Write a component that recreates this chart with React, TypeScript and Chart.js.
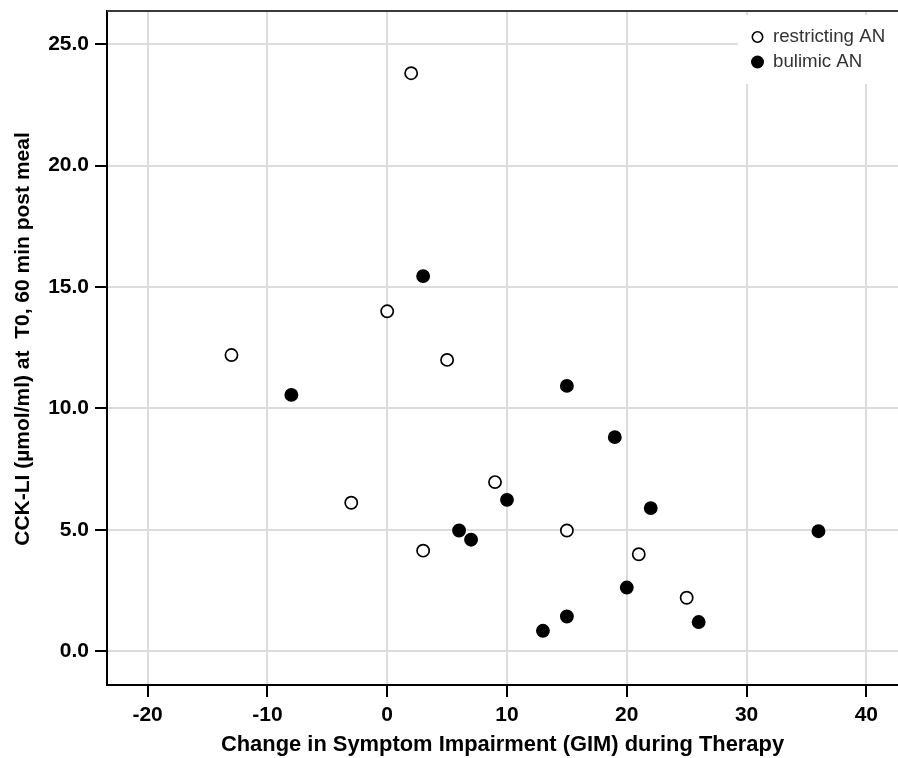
import React, { useEffect, useRef } from "react";
import { Chart, registerables } from "chart.js";

Chart.register(...registerables);

// ---- data ----
const seriesLabels = ["restricting AN", "bulimic AN"];
const restrictingX = [2, 0, -13, 5, -3, 9, 3, 15, 21, 25];
const restrictingY = [23.8, 14.0, 12.2, 12.0, 6.12, 6.97, 4.15, 4.98, 4.0, 2.21];
const bulimicX = [3, -8, 15, 19, 10, 22, 6, 7, 20, 15, 13, 26, 36];
const bulimicY = [15.45, 10.56, 10.93, 8.82, 6.24, 5.9, 4.98, 4.6, 2.63, 1.44, 0.85, 1.21, 4.95];
const xTicks = [-20, -10, 0, 10, 20, 30, 40];
const yTicks = [0, 5, 10, 15, 20, 25];
const xTitle = "Change in Symptom Impairment (GIM) during Therapy";
const yTitle = "CCK-LI (µmol/ml) at  T0, 60 min post meal";

const FONT = "'Liberation Sans', Arial, sans-serif";

const framePlugin = {
  id: "frameAndLegend",
  afterDraw(chart: any) {
    const { ctx, chartArea } = chart;
    ctx.save();
    // top border
    ctx.strokeStyle = "#3a3a3a";
    ctx.lineWidth = 2;
    ctx.beginPath();
    ctx.moveTo(chartArea.left, chartArea.top);
    ctx.lineTo(chartArea.right, chartArea.top);
    ctx.stroke();

    // y axis title
    ctx.save();
    ctx.translate(23, (chartArea.top + chartArea.bottom) / 2 - 9);
    ctx.rotate(-Math.PI / 2);
    ctx.fillStyle = "#000000";
    ctx.font = `bold 21px ${FONT}`;
    ctx.textAlign = "center";
    ctx.textBaseline = "middle";
    ctx.fillText(yTitle, 0, 0);
    ctx.restore();

    // legend box
    const bx = chartArea.right - 160;
    const by = chartArea.top + 4;
    ctx.fillStyle = "#ffffff";
    ctx.fillRect(bx, by, 160, 69);
    const datasets = chart.data.datasets;
    datasets.forEach((ds: any, i: number) => {
      const cy = by + 22 + i * 25;
      const cx = bx + 19.5;
      ctx.beginPath();
      if (i === 0) {
        ctx.arc(cx, cy, 5.2, 0, Math.PI * 2);
        ctx.fillStyle = ds.pointBackgroundColor;
        ctx.fill();
        ctx.lineWidth = 1.6;
        ctx.strokeStyle = ds.pointBorderColor;
        ctx.stroke();
      } else {
        ctx.arc(cx, cy, 6.5, 0, Math.PI * 2);
        ctx.fillStyle = ds.pointBackgroundColor;
        ctx.fill();
      }
      ctx.fillStyle = "#333333";
      ctx.font = `18.7px ${FONT}`;
      ctx.textAlign = "left";
      ctx.textBaseline = "middle";
      ctx.fillText(ds.label, bx + 35, cy);
    });
    ctx.restore();
  },
};

const zeroPadding = (scale: any) => {
  scale.paddingLeft = 0;
  scale.paddingRight = 0;
  scale.paddingTop = 0;
  scale.paddingBottom = 0;
};

export default function App() {
  const ref = useRef<HTMLCanvasElement>(null);

  useEffect(() => {
    if (!ref.current) return;
    const chart = new Chart(ref.current, {
      type: "scatter",
      data: {
        datasets: [
          {
            label: seriesLabels[0],
            data: restrictingX.map((x, i) => ({ x, y: restrictingY[i] })),
            pointRadius: 6.1,
            pointBorderWidth: 1.7,
            pointBackgroundColor: "#ffffff",
            pointBorderColor: "#000000",
          },
          {
            label: seriesLabels[1],
            data: bulimicX.map((x, i) => ({ x, y: bulimicY[i] })),
            pointRadius: 6.1,
            pointBorderWidth: 1.7,
            pointBackgroundColor: "#000000",
            pointBorderColor: "#000000",
          },
        ],
      },
      options: {
        animation: false,
        responsive: false,
        maintainAspectRatio: false,
        layout: { autoPadding: false, padding: { top: 11, right: 0, left: 0, bottom: 0 } },
        plugins: {
          legend: { display: false },
          tooltip: { enabled: false },
        },
        scales: {
          x: {
            type: "linear",
            position: "bottom",
            min: -23.39,
            max: 42.64,
            afterBuildTicks: (scale: any) => {
              scale.ticks = xTicks.map((v) => ({ value: v }));
            },
            afterFit: (scale: any) => {
              scale.height = 73;
              zeroPadding(scale);
            },
            border: { display: true, color: "#000000", width: 2 },
            grid: {
              color: "#dcdcdc",
              lineWidth: 2,
              tickColor: "#000000",
              tickLength: 12,
              tickWidth: 2,
            },
            ticks: {
              color: "#000000",
              padding: 6,
              maxRotation: 0,
              font: { family: FONT, size: 21, weight: "bold" },
              callback: (v: any) => String(v),
            },
            title: {
              display: true,
              text: xTitle,
              color: "#000000",
              font: { family: FONT, size: 21.9, weight: "bold" },
              padding: { top: 0, bottom: 0 },
            },
          },
          y: {
            type: "linear",
            position: "left",
            min: -1.38,
            max: 26.36,
            afterBuildTicks: (scale: any) => {
              scale.ticks = yTicks.map((v) => ({ value: v }));
            },
            afterFit: (scale: any) => {
              scale.width = 107;
              zeroPadding(scale);
            },
            border: { display: true, color: "#000000", width: 2 },
            grid: {
              color: "#dcdcdc",
              lineWidth: 2,
              tickColor: "#000000",
              tickLength: 12,
              tickWidth: 2,
            },
            ticks: {
              color: "#000000",
              padding: 6,
              font: { family: FONT, size: 21, weight: "bold" },
              callback: (v: any) => Number(v).toFixed(1),
            },
            title: { display: false },
          },
        },
      },
      plugins: [framePlugin],
    } as any);
    return () => chart.destroy();
  }, []);

  return (
    <div style={{ position: "absolute", left: 0, top: 0, width: 898, height: 758 }}>
      <canvas ref={ref} width={898} height={758} style={{ display: "block" }} />
    </div>
  );
}
